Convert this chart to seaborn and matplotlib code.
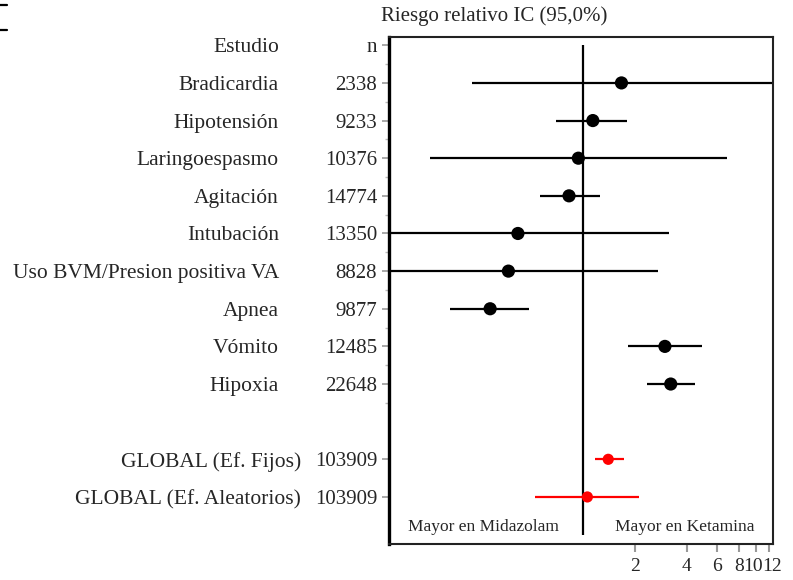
import numpy as np
import pandas as pd
import matplotlib.pyplot as plt
from matplotlib.lines import Line2D
from matplotlib.transforms import ScaledTranslation
import seaborn as sns

sns.set_style("white")
plt.rcParams['font.family'] = ['Liberation Serif', 'DejaVu Serif']

# Datos (riesgo relativo e IC 95%)
estudios = ['Bradicardia', 'Hipotensión', 'Laringoespasmo', 'Agitación', 'Intubación',
            'Uso BVM/Presion positiva VA', 'Apnea', 'Vómito', 'Hipoxia']
n_estudios = [2338, 9233, 10376, 14774, 13350, 8828, 9877, 12485, 22648]
rr = [1.67, 1.14, 0.94, 0.83, 0.42, 0.37, 0.29, 2.98, 3.22]
ic_inf = [0.227, 0.70, 0.130, 0.56, 0.05, 0.05, 0.170, 1.83, 2.34]
ic_sup = [20.0, 1.80, 6.85, 1.25, 3.16, 2.71, 0.49, 4.90, 4.43]

globales = ['GLOBAL (Ef. Fijos)', 'GLOBAL (Ef. Aleatorios)']
n_global = [103909, 103909]
rr_global = [1.40, 1.06]
inf_global = [1.17, 0.53]
sup_global = [1.73, 2.10]

x_ticks = [2, 4, 6, 8, 10, 12]

filas_est = list(range(len(estudios)))
filas_glob = [len(estudios) + 1, len(estudios) + 2]

df = pd.DataFrame({
    'nombre': estudios + globales,
    'n': n_estudios + n_global,
    'rr': rr + rr_global,
    'inf': ic_inf + inf_global,
    'sup': ic_sup + sup_global,
    'fila': filas_est + filas_glob,
    'tipo': ['estudio'] * len(estudios) + ['global'] * len(globales),
})

fig = plt.figure(figsize=(7.93, 5.8), dpi=100)
ax = fig.add_axes([389 / 793, 1 - 544 / 580, 384 / 793, 507 / 580])
ax.set_xscale('log', base=2)

colores = {'estudio': 'black', 'global': 'red'}
for _, r in df.iterrows():
    ax.hlines(r['fila'], r['inf'], r['sup'], color=colores[r['tipo']], lw=1.6, zorder=2)

sns.scatterplot(data=df[df.tipo == 'estudio'], x='rr', y='fila', color='black',
                s=90, marker='o', edgecolor='none', ax=ax, legend=False, zorder=3)
sns.scatterplot(data=df[df.tipo == 'global'], x='rr', y='fila', color='red',
                s=65, marker='o', edgecolor='none', ax=ax, legend=False, zorder=3)

ax.vlines(1, -1, 12, color='black', lw=1.6, zorder=1)

ax.set_xlim(2 ** (-194 / 52), 2 ** (190 / 52))
ax.set_ylim(12.25, -1.22)

# eje x
ax.set_xticks(x_ticks)
ax.set_xticklabels([str(t) for t in x_ticks], fontsize=14)
ax.xaxis.set_minor_locator(plt.NullLocator())
ax.tick_params(axis='x', which='major', length=6, width=1.5, color='#999999',
               direction='out', bottom=True, pad=4)
etiquetas = ax.get_xticklabels()
for lab, dx in [(etiquetas[-2], -3), (etiquetas[-1], 3)]:
    lab.set_transform(lab.get_transform() + ScaledTranslation(dx / 100, 0, fig.dpi_scale_trans))

# eje y: columna n
ax.set_yticks([-1] + list(df['fila']))
ax.set_yticklabels(['n'] + [str(v) for v in df['n']], fontsize=15)
ax.set_yticks([f + 0.5 for f in range(-1, len(estudios))], minor=True)
ax.tick_params(axis='y', which='major', length=5, width=1.2, color='#999999',
               direction='out', left=True, pad=3.5)
ax.tick_params(axis='y', which='minor', length=3, width=1.0, color='#bbbbbb',
               direction='out', left=True)
ax.set_xlabel('')
ax.set_ylabel('')

for lado in ['top', 'right', 'bottom']:
    ax.spines[lado].set_linewidth(1.5)
    ax.spines[lado].set_color('#222222')
ax.spines['left'].set_linewidth(2.4)
ax.spines['left'].set_color('black')

# columna de nombres
tr = ax.get_yaxis_transform()
ax.text(-0.2865, -1, 'Estudio', transform=tr, ha='right', va='center_baseline', fontsize=15.5)
for nombre, fila, tipo in zip(df['nombre'], df['fila'], df['tipo']):
    xpos = -0.2865 if tipo == 'estudio' else -0.229
    ax.text(xpos, fila, nombre, transform=tr, ha='right', va='center_baseline', fontsize=15.5)

ax.text(2 ** -1.913, 11.75, 'Mayor en Midazolam', ha='center', va='center_baseline', fontsize=12.5)
ax.text(2 ** 1.96, 11.75, 'Mayor en Ketamina', ha='center', va='center_baseline', fontsize=12.5)

fig.text(494 / 793, 1 - 16 / 580, 'Riesgo relativo IC (95,0%)', ha='center', va='center',
         fontsize=15)

# marcas en la esquina superior izquierda
for yy in [1 - 5 / 580, 1 - 30 / 580]:
    fig.add_artist(Line2D([0, 7 / 793], [yy, yy], color='black', lw=1.6))

fig.savefig('out.png', dpi=100)
